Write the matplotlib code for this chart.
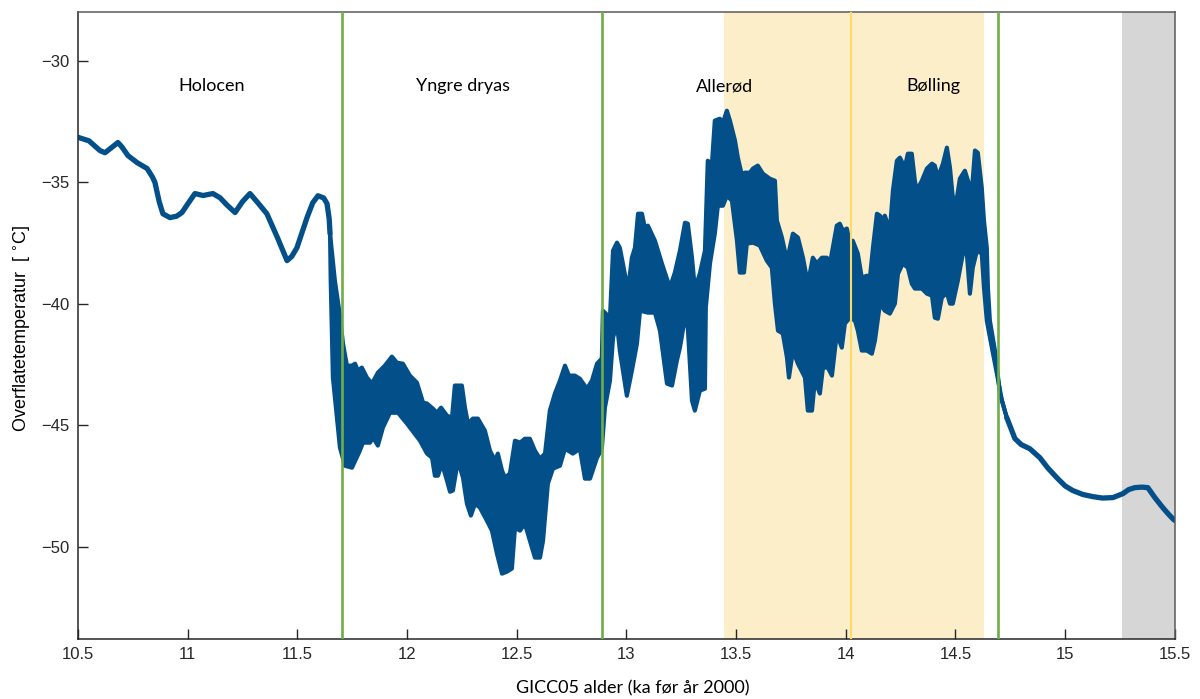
import matplotlib
matplotlib.use("Agg")
import matplotlib.pyplot as plt
import numpy as np

# smooth part, Holocene side
head_x = [10.500, 10.505, 10.550, 10.600, 10.623, 10.650, 10.682, 10.700, 10.728, 10.770,
          10.815, 10.840, 10.851, 10.870, 10.887, 10.919, 10.950, 10.974, 11.000, 11.033,
          11.070, 11.115, 11.147, 11.180, 11.216, 11.250, 11.284, 11.320, 11.361, 11.410,
          11.453, 11.475, 11.498, 11.544, 11.570, 11.594, 11.620, 11.635, 11.645, 11.649]
head_y = [-33.15, -33.17, -33.30, -33.70, -33.79, -33.60, -33.37, -33.55, -33.91, -34.20,
          -34.44, -34.80, -35.02, -35.80, -36.30, -36.46, -36.40, -36.25, -35.90, -35.47,
          -35.55, -35.47, -35.64, -35.95, -36.25, -35.80, -35.47, -35.85, -36.30, -37.30,
          -38.23, -38.05, -37.70, -36.46, -35.85, -35.56, -35.65, -35.88, -36.50, -37.12]

# noisy part: upper envelope
upper_x = [11.649, 11.671, 11.694, 11.708, 11.726, 11.749, 11.763, 11.776, 11.794, 11.817,
           11.840, 11.867, 11.899, 11.931, 11.954, 11.981, 12.013, 12.045, 12.073, 12.091,
           12.118, 12.136, 12.155, 12.182, 12.205, 12.218, 12.250, 12.264, 12.278, 12.300,
           12.323, 12.355, 12.378, 12.401, 12.414, 12.433, 12.446, 12.469, 12.492, 12.515,
           12.537, 12.560, 12.583, 12.606, 12.629, 12.651, 12.674, 12.697, 12.720, 12.738,
           12.765, 12.788, 12.820, 12.843, 12.866, 12.888, 12.893, 12.925, 12.939, 12.957,
           12.970, 12.984, 13.007, 13.025, 13.039, 13.053, 13.071, 13.084, 13.098, 13.130,
           13.162, 13.198, 13.221, 13.244, 13.267, 13.280, 13.299, 13.312, 13.335, 13.358,
           13.371, 13.390, 13.403, 13.426, 13.440, 13.458, 13.472, 13.495, 13.508, 13.527,
           13.540, 13.563, 13.577, 13.599, 13.622, 13.654, 13.677, 13.686, 13.709, 13.732,
           13.759, 13.782, 13.805, 13.827, 13.850, 13.868, 13.891, 13.914, 13.928, 13.959,
           13.973, 13.987, 14.005, 14.019, 14.032, 14.055, 14.073, 14.096, 14.110, 14.124,
           14.142, 14.156, 14.165, 14.178, 14.201, 14.215, 14.233, 14.247, 14.269, 14.283,
           14.301, 14.315, 14.324, 14.347, 14.370, 14.393, 14.406, 14.420, 14.443, 14.461,
           14.475, 14.488, 14.507, 14.520, 14.543, 14.557, 14.575, 14.589, 14.602, 14.620,
           14.630, 14.643, 14.648, 14.657, 14.680, 14.703, 14.734]
upper_y = [-37.12, -39.05, -40.49, -41.65, -42.55, -42.55, -42.47, -42.76, -42.63, -43.04,
           -43.29, -42.84, -42.55, -42.18, -42.43, -42.47, -42.96, -43.25, -44.07, -44.11,
           -44.32, -44.49, -44.28, -44.61, -44.69, -43.37, -43.37, -44.28, -44.94, -44.73,
           -44.73, -45.23, -46.05, -46.46, -46.17, -46.87, -47.16, -46.99, -45.64, -45.72,
           -45.56, -45.56, -46.05, -46.38, -46.17, -44.40, -43.70, -43.17, -42.55, -42.96,
           -42.96, -43.09, -43.50, -43.17, -42.47, -42.26, -40.29, -40.58, -37.82, -37.49,
           -37.70, -38.35, -39.46, -38.11, -37.70, -36.30, -36.30, -36.87, -36.79, -37.41,
           -38.35, -39.34, -38.72, -37.82, -36.67, -36.71, -38.11, -39.38, -38.76, -37.82,
           -34.12, -34.24, -32.47, -32.39, -32.55, -32.06, -32.47, -33.29, -33.99, -34.73,
           -34.61, -34.61, -34.44, -34.32, -34.65, -34.86, -34.94, -36.58, -37.28, -38.23,
           -37.12, -37.28, -38.11, -39.18, -38.11, -38.35, -38.11, -38.11, -38.35, -36.79,
           -36.71, -37.00, -36.91, -37.53, -37.41, -37.94, -38.93, -38.85, -38.93, -37.70,
           -36.30, -36.38, -36.58, -36.38, -37.00, -35.35, -34.12, -33.99, -34.40, -33.83,
           -33.83, -34.94, -35.35, -34.94, -34.44, -34.24, -34.32, -34.81, -34.24, -33.58,
           -34.40, -35.64, -35.64, -34.86, -34.53, -34.94, -35.35, -33.70, -33.79, -35.23,
           -36.58, -37.70, -39.34, -40.70, -41.93, -43.70, -44.69]

# noisy part: lower envelope
lower_x = [11.649, 11.652, 11.662, 11.694, 11.717, 11.749, 11.785, 11.799, 11.831, 11.845,
           11.867, 11.890, 11.922, 11.959, 12.000, 12.059, 12.091, 12.114, 12.127, 12.141,
           12.159, 12.182, 12.196, 12.209, 12.232, 12.255, 12.273, 12.291, 12.310, 12.332,
           12.364, 12.387, 12.410, 12.433, 12.455, 12.478, 12.492, 12.515, 12.537, 12.560,
           12.583, 12.606, 12.620, 12.642, 12.665, 12.697, 12.720, 12.756, 12.788, 12.811,
           12.834, 12.866, 12.888, 12.902, 12.925, 12.939, 12.957, 12.970, 13.002, 13.025,
           13.048, 13.062, 13.098, 13.130, 13.153, 13.185, 13.208, 13.230, 13.244, 13.267,
           13.280, 13.299, 13.312, 13.335, 13.358, 13.362, 13.381, 13.403, 13.417, 13.440,
           13.458, 13.481, 13.504, 13.517, 13.536, 13.549, 13.577, 13.608, 13.640, 13.663,
           13.677, 13.691, 13.713, 13.732, 13.741, 13.759, 13.782, 13.814, 13.827, 13.846,
           13.859, 13.882, 13.896, 13.918, 13.937, 13.959, 13.982, 13.996, 14.019, 14.042,
           14.055, 14.073, 14.096, 14.119, 14.133, 14.156, 14.178, 14.201, 14.224, 14.238,
           14.260, 14.283, 14.301, 14.315, 14.347, 14.370, 14.393, 14.406, 14.420, 14.438,
           14.461, 14.475, 14.488, 14.511, 14.534, 14.552, 14.566, 14.579, 14.598, 14.620,
           14.630, 14.643, 14.666, 14.689, 14.712, 14.734]
lower_y = [-37.12, -39.05, -43.04, -45.92, -46.67, -46.75, -46.05, -45.72, -45.72, -45.51,
           -45.84, -45.10, -44.49, -44.49, -44.94, -45.64, -46.17, -46.34, -47.08, -47.08,
           -46.58, -47.28, -47.74, -47.69, -46.46, -47.16, -48.23, -48.72, -48.23, -48.39,
           -48.93, -49.34, -50.29, -51.11, -51.03, -50.90, -49.22, -49.34, -49.05, -49.75,
           -50.45, -50.45, -49.75, -47.41, -46.79, -46.67, -45.97, -46.17, -45.97, -47.20,
           -47.20, -46.34, -45.97, -44.28, -43.17, -41.40, -40.82, -41.93, -43.79, -42.76,
           -41.65, -40.29, -40.37, -40.37, -41.11, -43.29, -43.37, -42.35, -41.81, -40.58,
           -40.99, -43.99, -44.40, -43.58, -43.50, -40.16, -38.35, -37.12, -35.97, -35.97,
           -35.56, -35.76, -37.41, -38.72, -38.72, -37.53, -37.49, -37.61, -38.23, -38.52,
           -40.00, -41.11, -41.23, -42.22, -43.04, -41.93, -42.47, -43.04, -44.40, -44.40,
           -43.17, -43.70, -42.63, -42.63, -42.96, -41.23, -41.81, -40.82, -40.58, -40.70,
           -41.11, -41.93, -41.93, -42.06, -41.52, -40.00, -40.29, -40.41, -40.00, -38.77,
           -38.35, -38.52, -39.18, -39.38, -39.38, -39.59, -39.67, -40.58, -40.62, -39.75,
           -39.55, -40.00, -40.00, -39.05, -37.94, -37.94, -39.59, -38.52, -37.82, -37.94,
           -39.34, -40.70, -41.81, -42.88, -43.99, -44.69]

# smooth part, glacial side
tail_x = [14.734, 14.771, 14.800, 14.839, 14.885, 14.920, 14.962, 15.000, 15.035, 15.080,
          15.126, 15.170, 15.218, 15.263, 15.290, 15.318, 15.350, 15.377, 15.409, 15.445,
          15.470, 15.491, 15.500]
tail_y = [-44.69, -45.55, -45.80, -45.97, -46.34, -46.75, -47.16, -47.50, -47.69, -47.85,
          -47.94, -48.00, -47.98, -47.82, -47.65, -47.57, -47.55, -47.57, -47.98, -48.39,
          -48.65, -48.85, -48.92]

period_names = ["Holocen", "Yngre dryas", "Allerød", "Bølling"]
period_x = [11.11, 12.255, 13.445, 14.40]
green_lines = [11.703, 12.888, 14.692]
orange_line = 14.026
yellow_span = (13.447, 14.628)
grey_span = (15.261, 15.5)

blue = "#034f89"

fig = plt.figure(figsize=(12, 6.99), dpi=100)
ax = fig.add_axes([0.065, 0.0858, 0.914, 0.897])

ax.axvspan(*yellow_span, color="#fdeeca", lw=0, zorder=0)
ax.axvspan(*grey_span, color="#d6d6d6", lw=0, zorder=0)

ax.plot(head_x, head_y, color=blue, lw=3.8, solid_capstyle="round", solid_joinstyle="round", zorder=2)
ax.plot(tail_x, tail_y, color=blue, lw=3.8, solid_capstyle="round", solid_joinstyle="round", zorder=2)
# band of the noisy record, filled between the two envelopes
ax.fill(np.r_[upper_x, lower_x[::-1]], np.r_[upper_y, lower_y[::-1]], color=blue, lw=0, zorder=2)
ax.plot(upper_x, upper_y, color=blue, lw=3.0, solid_capstyle="round", solid_joinstyle="round", zorder=2)
ax.plot(lower_x, lower_y, color=blue, lw=3.0, solid_capstyle="round", solid_joinstyle="round", zorder=2)

for gx in green_lines:
    ax.axvline(gx, color="#70ad47", lw=1.9, zorder=3)
ax.axvline(orange_line, color="#ffd966", lw=1.5, zorder=3)

for name, px in zip(period_names, period_x):
    ax.text(px, -31.05, name, ha="center", va="center", fontsize=13, family="Lato", color="black")

ax.set_xlim(10.5, 15.5)
ax.set_ylim(-53.8, -28.0)
ax.set_xticks(np.arange(10.5, 15.51, 0.5))
ax.set_xticklabels(["10.5", "11", "11.5", "12", "12.5", "13", "13.5", "14", "14.5", "15", "15.5"])
ax.set_yticks([-50, -45, -40, -35, -30])
ax.tick_params(direction="in", length=7, width=1, colors="#262626", labelsize=12, pad=6)
for lab in ax.get_xticklabels() + ax.get_yticklabels():
    lab.set_family("Liberation Sans")
ax.spines["left"].set_color("#262626")
ax.spines["bottom"].set_color("#262626")
ax.spines["top"].set_color("#5a5a5a")
ax.spines["right"].set_color("#5a5a5a")
for s in ax.spines.values():
    s.set_linewidth(1.1)

fig.text(0.5275, 1 - 688 / 699, "GICC05 alder (ka før år 2000)", ha="center", va="center",
         fontsize=13, family="Lato")
fig.text(0.019, 0.531, r"Overflatetemperatur  [ $^{\circ}$C]", ha="center", va="center",
         rotation=90, fontsize=13, family="Liberation Sans")

fig.savefig("out.png", dpi=100)
